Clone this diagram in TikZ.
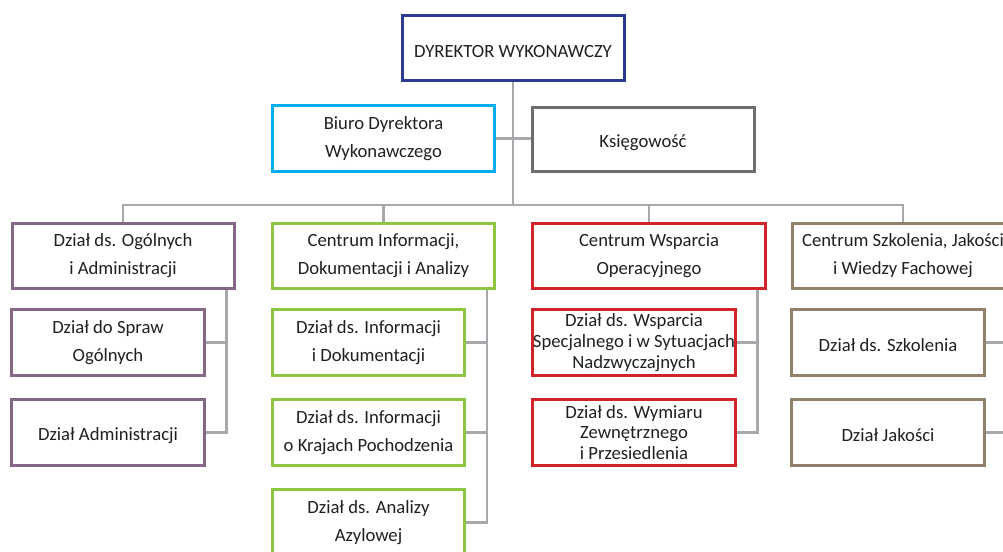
\documentclass[tikz,border=0pt]{standalone}
\usepackage{fontspec}
\setmainfont{Carlito}
\definecolor{dblue}{RGB}{43,57,144}
\definecolor{biurocol}{RGB}{0,174,239}
\definecolor{ksiegcol}{RGB}{109,110,113}
\definecolor{ogolcol}{RGB}{133,104,135}
\definecolor{infocol}{RGB}{141,198,63}
\definecolor{wspcol}{RGB}{210,35,42}
\definecolor{szkcol}{RGB}{145,128,108}
\definecolor{linkcol}{RGB}{167,169,172}
\definecolor{txt}{RGB}{35,31,32}
\tikzset{
  org/.style={draw=#1, line width=2.25pt, fill=white, text=txt, align=center,
    inner sep=0pt, font=\fontsize{14}{21}\selectfont,
    execute at begin node={\rule{0pt}{14pt}},
    minimum width=166.5pt, minimum height=49pt},
  unit/.style={org=#1, minimum width=144.5pt, minimum height=49.5pt},
  link/.style={draw=linkcol, line width=2pt},
}
\begin{document}
\begin{tikzpicture}[x=0.75pt,y=-0.75pt]
    \useasboundingbox (0,0) rectangle (1003,552);
    \clip (0,0) rectangle (1003,552);
    \node[org=dblue] (dyr) at (513,48) {DYREKTOR WYKONAWCZY};
    \node[org=biurocol] (biuro) at (383.5,138.5) {Biuro Dyrektora\\Wykonawczego};
    \node[org=ksiegcol, minimum height=48pt] (ksieg) at (643,139.5) {Księgowość};
    \node[org=ogolcol] (ogol) at (123,256) {Dział ds. Ogólnych\\i Administracji};
    \node[org=infocol] (info) at (383.5,256) {Centrum Informacji,\\Dokumentacji i Analizy};
    \node[org=wspcol, minimum width=175pt] (wsp) at (649,256) {Centrum Wsparcia\\Operacyjnego};
    \node[org=szkcol] (szk) at (903,256) {Centrum Szkolenia, Jakości\\i Wiedzy Fachowej};
    \node[unit=ogolcol] (spraw) at (108,342.5) {Dział do Spraw\\Ogólnych};
    \node[unit=ogolcol] (adm) at (108,432.5) {Dział Administracji};
    \node[unit=infocol] (dok) at (368.5,342.5) {Dział ds. Informacji\\i Dokumentacji};
    \node[unit=infocol] (kraj) at (368.5,432.5) {Dział ds. Informacji\\o Krajach Pochodzenia};
    \node[unit=infocol] (azyl) at (368.5,522.5) {Dział ds. Analizy\\Azylowej};
    \node[unit=wspcol, minimum width=152pt, font=\fontsize{14}{15.5}\selectfont] (spec) at (634,342.5) {Dział ds. Wsparcia\\Specjalnego i w Sytuacjach\\Nadzwyczajnych};
    \node[unit=wspcol, minimum width=152pt, font=\fontsize{14}{15.5}\selectfont] (przes) at (634,432.5) {Dział ds. Wymiaru\\Zewnętrznego\\i Przesiedlenia};
    \node[unit=szkcol] (szkol) at (888,342.5) {Dział ds. Szkolenia};
    \node[unit=szkcol] (jak) at (888,432.5) {Dział Jakości};
    \draw[link] (dyr.south) -- ++(0,123) coordinate (bus);
    \draw[link] (biuro.east) -- (biuro.east -| ksieg.west);
    \draw[link] (ogol.north) -- (ogol.north |- bus) -| (szk.north);
    \draw[link] (info.north) -- (info.north |- bus);
    \draw[link] (wsp.north) -- (wsp.north |- bus);
    \draw[link] ([xshift=-6.75pt]ogol.south east) coordinate (b1) |- (adm.east);
    \draw[link] (spraw.east) -- (spraw.east -| b1);
    \draw[link] ([xshift=-6.75pt]info.south east) coordinate (b2) |- (azyl.east);
    \draw[link] (dok.east) -- (dok.east -| b2);
    \draw[link] (kraj.east) -- (kraj.east -| b2);
    \draw[link] ([xshift=-7.5pt]wsp.south east) coordinate (b3) |- (przes.east);
    \draw[link] (spec.east) -- (spec.east -| b3);
    \draw[link] ([xshift=-6.75pt]szk.south east) coordinate (b4) |- (jak.east);
    \draw[link] (szkol.east) -- (szkol.east -| b4);
\end{tikzpicture}
\end{document}
